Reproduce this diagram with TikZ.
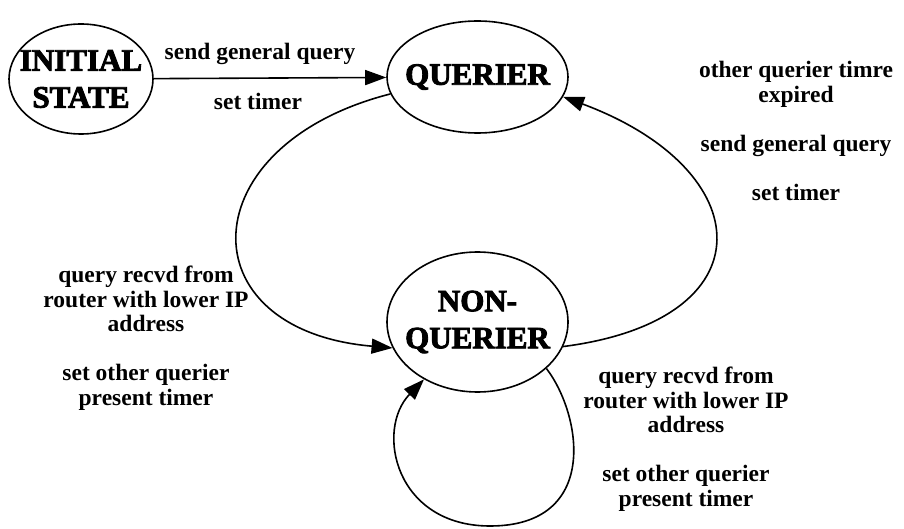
\documentclass[tikz,border=0pt]{standalone}
\usepackage{fontspec}
\setmainfont{Liberation Serif}
\usetikzlibrary{arrows.meta,shapes.geometric}
% state names: bold serif, filled and stroked for a heavier face
\newcommand{\heavytext}[1]{\special{pdf:literal direct 2 Tr 0.9 w}#1\special{pdf:literal direct 0 Tr}}
\tikzset{
  state/.style={ellipse, draw, line width=1.6pt, inner xsep=-20pt, inner ysep=0pt,
    align=center, font=\bfseries\fontsize{31}{37}\selectfont},
  edge/.style={line width=1.6pt, -{Triangle[length=21pt,width=15pt]}},
  lbl/.style={inner sep=0pt, align=center, font=\bfseries\fontsize{23.5}{24.5}\selectfont},
}
\begin{document}
\begin{tikzpicture}[x=1pt, y=-1pt]
  \useasboundingbox (0,0) rectangle (904,529);

  % states
  \node[state, minimum width=144pt, minimum height=110pt] (i) at (81,79) {\heavytext{INITIAL}\\\heavytext{STATE}};
  \node[state, minimum width=181pt, minimum height=112pt] (q) at (477.5,77) {\heavytext{QUERIER}};
  \node[state, minimum width=181pt, minimum height=140pt] (n) at (477.5,322) {\heavytext{NON-}\\\heavytext{QUERIER}};

  % transitions
  \draw[edge] (i) -- (q);
  \draw[edge] (q.191) .. controls (190,145) and (185,330) .. (n.197);
  \draw[edge] (n.344) .. controls (770,320) and (760,170) .. (q.347);
  \coordinate (loopbottom) at (490,526);
  \draw[edge] (n.326) .. controls (582,415) and (600,526) .. (loopbottom)
                      .. controls (395,526) and (375,430) .. (n.227);

  % transition labels
  \node[lbl, anchor=base] (l1) at (260,60) {send general query};
  \node[lbl, anchor=base] (l2) at (258,110) {set timer};
  \node[lbl] (l3) at (146,338) {query recvd from\\router with lower IP\\address\\[24.5pt]set other querier\\present timer};
  \node[lbl] (l4) at (796,131) {other querier timre\\expired\\[24.5pt]send general query\\[24.5pt]set timer};
  \node[lbl] (l5) at (686,439) {query recvd from\\router with lower IP\\address\\[24.5pt]set other querier\\present timer};
\end{tikzpicture}
\end{document}
